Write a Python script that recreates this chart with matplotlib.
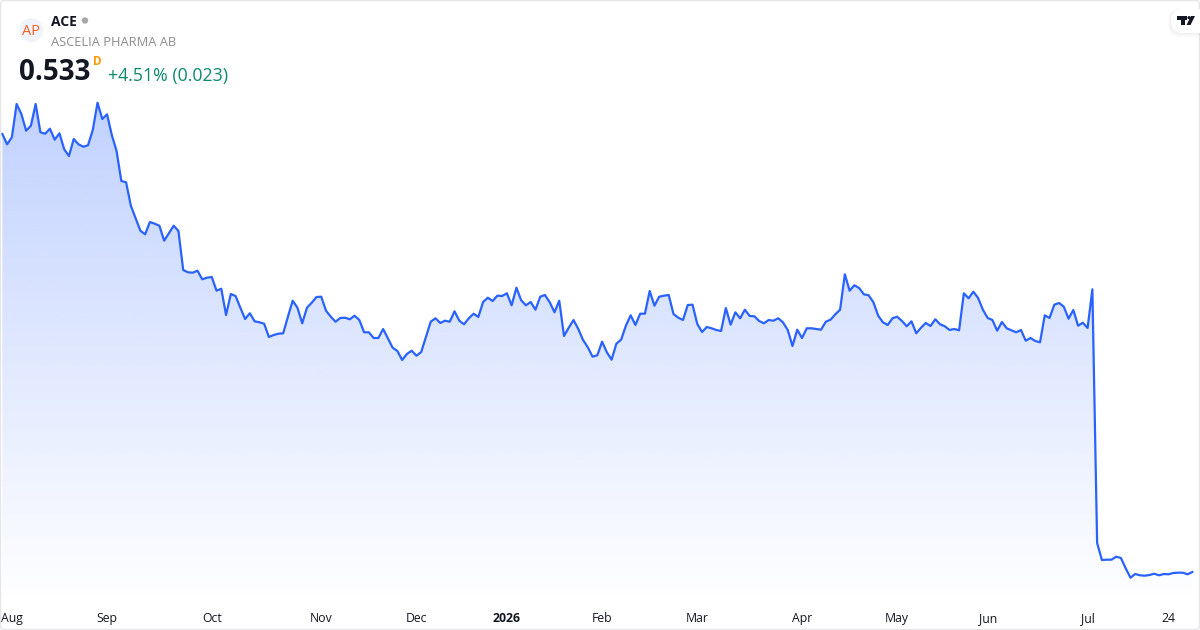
import numpy as np
from matplotlib import pyplot as plt
from matplotlib.patches import Circle, FancyBboxPatch, Polygon, Rectangle

plt.rcParams['font.family'] = ['Open Sans', 'DejaVu Sans']

# daily closes
prices = [
    4.913, 4.81, 4.88, 5.213, 5.113, 4.946, 4.996, 5.213, 4.93, 4.916,
    4.966, 4.856, 4.92, 4.76, 4.693, 4.863, 4.81, 4.786, 4.8, 4.953,
    5.226, 5.063, 5.11, 4.903, 4.743, 4.443, 4.43, 4.196, 4.07, 3.946,
    3.91, 4.033, 4.016, 3.996, 3.846, 3.92, 3.996, 3.943, 3.553, 3.53,
    3.526, 3.546, 3.46, 3.476, 3.483, 3.346, 3.366, 3.103, 3.313, 3.293,
    3.176, 3.063, 3.12, 3.04, 3.03, 3.016, 2.883, 2.903, 2.916, 2.92,
    3.086, 3.246, 3.176, 3.02, 3.176, 3.226, 3.283, 3.286, 3.146, 3.086,
    3.036, 3.073, 3.076, 3.06, 3.096, 3.053, 2.93, 2.93, 2.873, 2.873,
    2.963, 2.87, 2.776, 2.743, 2.653, 2.713, 2.746, 2.696, 2.733, 2.886,
    3.036, 3.07, 3.023, 3.046, 3.036, 3.14, 3.046, 3.01, 3.07, 3.116,
    3.083, 3.233, 3.276, 3.243, 3.296, 3.293, 3.32, 3.2, 3.376, 3.25,
    3.2, 3.233, 3.156, 3.286, 3.303, 3.23, 3.13, 3.246, 2.893, 2.976,
    3.053, 2.963, 2.853, 2.78, 2.686, 2.7, 2.836, 2.73, 2.656, 2.816,
    2.856, 2.996, 3.1, 3.003, 3.116, 3.116, 3.343, 3.196, 3.286, 3.296,
    3.303, 3.113, 3.076, 3.053, 3.203, 3.206, 3.013, 2.933, 2.983, 2.97,
    2.953, 2.943, 3.173, 3.006, 3.13, 3.07, 3.156, 3.093, 3.09, 3.043,
    3.02, 3.053, 3.046, 3.07, 3.03, 2.953, 2.793, 2.956, 2.873, 2.97,
    2.97, 2.963, 2.956, 3.036, 3.056, 3.11, 3.156, 3.51, 3.346, 3.4,
    3.373, 3.31, 3.3, 3.23, 3.096, 3.03, 3.003, 3.07, 3.086, 3.043,
    2.99, 3.04, 2.92, 2.976, 3.023, 2.993, 3.06, 3.01, 2.99, 2.953,
    2.963, 2.95, 3.32, 3.27, 3.336, 3.273, 3.156, 3.073, 3.053, 2.946,
    3.033, 2.97, 2.95, 2.93, 2.953, 2.846, 2.873, 2.843, 2.83, 3.1,
    3.073, 3.206, 3.223, 3.186, 3.066, 3.153, 2.996, 3.026, 2.973, 3.36,
    0.823, 0.653, 0.656, 0.656, 0.686, 0.673, 0.57, 0.476, 0.513, 0.5,
    0.496, 0.503, 0.516, 0.5, 0.513, 0.51, 0.523, 0.526, 0.526, 0.51,
    0.533,
]
tick_days = [2, 22, 44, 67, 87, 106, 126, 146, 168, 188, 207, 228, 245]
tick_labels = ['Aug', 'Sep', 'Oct', 'Nov', 'Dec', '2026', 'Feb', 'Mar', 'Apr',
               'May', 'Jun', 'Jul', '24']

LINE = '#2962ff'
days = np.arange(len(prices))

fig = plt.figure(figsize=(12, 6.3), dpi=100)
ax = fig.add_axes([0, 27 / 630, 1, 603 / 630])
xlim = (-2.33 / 4.76, (1200 - 2.33) / 4.76)
ylim = (0.223, 6.253)

# area under the line, fading out towards the time axis
poly = ax.fill_between(days, prices, ylim[0], color='none', lw=0)
grad = np.zeros((256, 1, 4))
grad[..., 0] = 0x29 / 255
grad[..., 1] = 0x62 / 255
grad[..., 2] = 1
grad[:, 0, 3] = np.linspace(0.29, 0, 256)
im = ax.imshow(grad, aspect='auto', interpolation='bilinear', zorder=1,
               extent=(xlim[0], xlim[1], ylim[0], max(prices)))
im.set_clip_path(poly.get_paths()[0], transform=ax.transData)

ax.plot(days, prices, color=LINE, lw=1.6, zorder=2, solid_joinstyle='round')

ax.set_xlim(xlim)
ax.set_ylim(ylim)
ax.set_yticks([])
ax.set_xticks(tick_days)
ax.set_xticklabels(tick_labels, fontsize=8.8, color='#131722')
ax.tick_params(axis='x', length=0, pad=14)
for label in ax.get_xticklabels():
    label.set_verticalalignment('baseline')
    if label.get_text() == '2026':
        label.set_fontweight('bold')
for spine in ax.spines.values():
    spine.set_visible(False)

# header, badge and frame are placed in pixels on a second axes
top = fig.add_axes([0, 0, 1, 1])
top.set_xlim(0, 1200)
top.set_ylim(630, 0)
top.axis('off')
top.patch.set_alpha(0)

top.add_patch(FancyBboxPatch((0.5, 0.5), 1199, 629, boxstyle='round,pad=0,rounding_size=4',
                             fc='none', ec='#e6e6e8', lw=1))

top.add_patch(Circle((31, 30), 12, fc='#f0f3fa', ec='none'))
top.text(31, 31.5, 'AP', color='#f7622c', fontsize=10.5, ha='center', va='center')
top.text(51, 21.5, 'ACE', color='#131722', fontsize=10, fontweight='bold', va='center')
top.add_patch(Circle((85, 20.5), 3.2, fc='#a8a8a8', ec='none'))
top.text(51, 42, 'ASCELIA PHARMA AB', color='#8c8c8c', fontsize=9.3, va='center')
top.text(19, 73, '0.533', color='#131722', fontsize=20, fontweight='bold', va='center')
top.text(93, 61.5, 'D', color='#ff9800', fontsize=8.5, fontweight='bold', va='center')
top.text(108, 76.5, '+4.51% (0.023)', color='#0b8a72', fontsize=12.8, va='center')

# logo badge in the corner
for i in range(6):
    top.add_patch(FancyBboxPatch((1171 - i * 0.6, 9), 40 + i, 24 + i * 0.8,
                                 boxstyle='round,pad=0,rounding_size=11',
                                 fc='#000000', ec='none', alpha=0.012))
top.add_patch(FancyBboxPatch((1171, 9), 40, 24, boxstyle='round,pad=0,rounding_size=11',
                             fc='white', ec='none'))
top.add_patch(Rectangle((1177, 16), 10, 4, fc='#131722', ec='none'))
top.add_patch(Rectangle((1180.5, 16), 4, 9, fc='#131722', ec='none'))
top.add_patch(Circle((1189, 17.7), 1.6, fc='#131722', ec='none'))
top.add_patch(Polygon([(1191, 16), (1195, 16), (1190.5, 25), (1186.5, 25)],
                      closed=True, fc='#131722', ec='none'))

fig.savefig('out.png', dpi=100)
